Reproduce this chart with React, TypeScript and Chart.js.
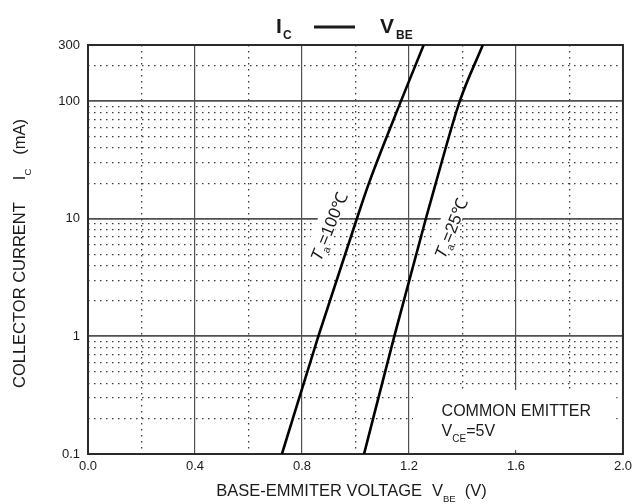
import React, { useEffect, useRef } from 'react';
import { Chart, registerables } from 'chart.js';

Chart.register(...registerables);

// ---- data ----
const VBE_TA100 = [0.725, 0.861, 1.005, 1.05, 1.17, 1.255];
const IC_TA100 = [0.1, 1, 10, 20, 100, 300];
const VBE_TA25 = [1.032, 1.145, 1.263, 1.3, 1.39, 1.476];
const IC_TA25 = [0.1, 1, 10, 20, 100, 300];

const X_MAJOR = [0, 0.4, 0.8, 1.2, 1.6, 2.0];
const X_MINOR = [0.2, 0.6, 1.0, 1.4, 1.8];
const Y_MAJOR = [0.1, 1, 10, 100, 300];
const Y_MINOR = [
  0.2, 0.3, 0.4, 0.5, 0.6, 0.7, 0.8, 0.9,
  2, 3, 4, 5, 6, 7, 8, 9,
  20, 30, 40, 50, 60, 70, 80, 90,
  200,
];

const FONT = '"Liberation Sans", Arial, Helvetica, sans-serif';
const INK = '#1a1a1a';

function seq(ctx: CanvasRenderingContext2D, parts: { t: string; font: string; dy: number; gap?: number }[], x: number, y: number) {
  let cx = x;
  for (const p of parts) {
    ctx.font = p.font;
    ctx.fillText(p.t, cx, y + p.dy);
    cx += ctx.measureText(p.t).width + (p.gap || 0);
  }
  return cx - x;
}

function seqWidth(ctx: CanvasRenderingContext2D, parts: { t: string; font: string; dy: number; gap?: number }[]) {
  let w = 0;
  for (const p of parts) {
    ctx.font = p.font;
    w += ctx.measureText(p.t).width + (p.gap || 0);
  }
  return w;
}

const decorPlugin = {
  id: 'decor',
  beforeDatasetsDraw(chart: any) {
    const { ctx, chartArea: a, scales } = chart;
    const sx = scales.x;
    const sy = scales.y;
    ctx.save();
    // white panel behind the "COMMON EMITTER" note
    const bx0 = sx.getPixelForValue(1.215);
    const bx1 = sx.getPixelForValue(1.975);
    const by0 = sy.getPixelForValue(0.35);
    const by1 = sy.getPixelForValue(0.108);
    ctx.fillStyle = '#ffffff';
    ctx.fillRect(bx0, by0, bx1 - bx0, by1 - by0);
    // frame
    ctx.strokeStyle = '#2a2a2a';
    ctx.lineWidth = 2;
    ctx.strokeRect(a.left, a.top, a.right - a.left, a.bottom - a.top);
    ctx.restore();
  },
  afterDatasetsDraw(chart: any) {
    const { ctx, scales } = chart;
    const sx = scales.x;
    const sy = scales.y;
    ctx.save();
    ctx.fillStyle = INK;
    ctx.textBaseline = 'alphabetic';
    ctx.textAlign = 'left';

    const labels = [
      { x: 0.9, y: 8.6, main: 'T', sub: 'a', rest: '=100℃' },
      { x: 1.357, y: 8.3, main: 'T', sub: 'a', rest: '=25℃' },
    ];
    for (const l of labels) {
      const px = sx.getPixelForValue(l.x);
      const py = sy.getPixelForValue(l.y);
      const parts = [
        { t: l.main, font: `italic 17px ${FONT}`, dy: 0, gap: 0.5 },
        { t: l.sub, font: `10.5px ${FONT}`, dy: 4, gap: 0.5 },
        { t: l.rest, font: `17px ${FONT}`, dy: 0 },
      ];
      ctx.save();
      ctx.translate(px, py);
      ctx.rotate((-68 * Math.PI) / 180);
      const w = seqWidth(ctx, parts);
      ctx.fillStyle = '#ffffff';
      ctx.fillRect(-w / 2 - 2, -13, w + 4, 20);
      ctx.fillStyle = INK;
      seq(ctx, parts, -w / 2, 6);
      ctx.restore();
    }

    // COMMON EMITTER note
    const nx = sx.getPixelForValue(1.322);
    const ny = sy.getPixelForValue(0.27);
    ctx.font = `16px ${FONT}`;
    ctx.fillText('COMMON EMITTER', nx, ny + 13);
    seq(ctx, [
      { t: 'V', font: `16px ${FONT}`, dy: 0 },
      { t: 'CE', font: `10px ${FONT}`, dy: 6 },
      { t: '=5V', font: `16px ${FONT}`, dy: 0 },
    ], nx, ny + 33);
    ctx.restore();
  },
  afterDraw(chart: any) {
    const { ctx, chartArea: a } = chart;
    ctx.save();
    ctx.fillStyle = INK;
    ctx.textAlign = 'left';
    ctx.textBaseline = 'alphabetic';

    // title  I_C  —  V_BE
    const tx = a.left + 188;
    ctx.font = `bold 21px ${FONT}`;
    ctx.fillText('I', tx, 33);
    ctx.font = `bold 12px ${FONT}`;
    ctx.fillText('C', tx + 7, 39);
    ctx.strokeStyle = INK;
    ctx.lineWidth = 3;
    ctx.beginPath();
    ctx.moveTo(tx + 38, 27);
    ctx.lineTo(tx + 79, 27);
    ctx.stroke();
    ctx.font = `bold 21px ${FONT}`;
    ctx.fillText('V', tx + 104, 33);
    ctx.font = `bold 12px ${FONT}`;
    ctx.fillText('BE', tx + 120, 39);

    // x axis title
    const xt = [
      { t: 'BASE-EMMITER VOLTAGE', font: `16.5px ${FONT}`, dy: 0, gap: 10 },
      { t: 'V', font: `16.5px ${FONT}`, dy: 0 },
      { t: 'BE', font: `9.5px ${FONT}`, dy: 6, gap: 9 },
      { t: '(V)', font: `16.5px ${FONT}`, dy: 0 },
    ];
    const xw = seqWidth(ctx, xt);
    seq(ctx, xt, (a.left + a.right) / 2 - 4 - xw / 2, 496);

    // y axis title (rotated)
    const yt = [
      { t: 'COLLECTOR CURRENT', font: `16.5px ${FONT}`, dy: 0, gap: 22 },
      { t: 'I', font: `16.5px ${FONT}`, dy: 0 },
      { t: 'C', font: `9.5px ${FONT}`, dy: 6, gap: 14 },
      { t: '(mA)', font: `16.5px ${FONT}`, dy: 0 },
    ];
    const yw = seqWidth(ctx, yt);
    ctx.translate(25, (a.top + a.bottom) / 2 + 4);
    ctx.rotate(-Math.PI / 2);
    seq(ctx, yt, -yw / 2, 0);
    ctx.restore();
  },
};

export default function App() {
  const ref = useRef<HTMLCanvasElement | null>(null);

  useEffect(() => {
    if (!ref.current) return;
    const mk = (xs: number[], ys: number[]) => xs.map((x, i) => ({ x, y: ys[i] }));
    const lineStyle = {
      showLine: true,
      borderColor: '#000000',
      borderWidth: 2.6,
      pointRadius: 0,
      cubicInterpolationMode: 'monotone',
      xAxisID: 'x',
      yAxisID: 'y',
    };
    const chart = new Chart(ref.current, {
      type: 'scatter',
      data: {
        datasets: [
          { label: 'Ta=100℃', data: mk(VBE_TA100, IC_TA100), ...lineStyle },
          { label: 'Ta=25℃', data: mk(VBE_TA25, IC_TA25), ...lineStyle },
        ],
      },
      options: {
        animation: false,
        responsive: true,
        maintainAspectRatio: false,
        devicePixelRatio: 1,
        layout: { padding: { top: 45, right: 10, left: 0, bottom: 0 } },
        plugins: {
          legend: { display: false },
          tooltip: { enabled: false },
          title: { display: false },
        },
        scales: {
          x: {
            type: 'linear',
            position: 'bottom',
            min: 0,
            max: 2,
            afterBuildTicks: (axis: any) => {
              axis.ticks = X_MAJOR.map((v) => ({ value: v }));
            },
            afterFit: (s: any) => {
              s.height = 50;
            },
            ticks: {
              autoSkip: false,
              maxRotation: 0,
              padding: 5,
              color: INK,
              font: { family: FONT, size: 13 },
              callback: (v: any) => Number(v).toFixed(1),
            },
            grid: { color: '#505050', lineWidth: 1.2, drawTicks: false },
            border: { display: false },
          },
          x2: {
            type: 'linear',
            position: 'top',
            min: 0,
            max: 2,
            afterBuildTicks: (axis: any) => {
              axis.ticks = X_MINOR.map((v) => ({ value: v }));
            },
            afterFit: (s: any) => {
              s.height = 0;
            },
            ticks: { display: false },
            grid: { color: '#3a3a3a', lineWidth: 1.3, drawTicks: false },
            border: { display: false, dash: [1.5, 4.5] },
          },
          y: {
            type: 'logarithmic',
            position: 'left',
            min: 0.1,
            max: 300,
            afterBuildTicks: (axis: any) => {
              axis.ticks = Y_MAJOR.map((v) => ({ value: v }));
            },
            afterFit: (s: any) => {
              s.width = 88;
            },
            ticks: {
              autoSkip: false,
              padding: 8,
              color: INK,
              font: { family: FONT, size: 13 },
              callback: (v: any) => String(Number(v)),
            },
            grid: { color: '#505050', lineWidth: 1.8, drawTicks: false },
            border: { display: false },
          },
          y2: {
            type: 'logarithmic',
            position: 'right',
            min: 0.1,
            max: 300,
            afterBuildTicks: (axis: any) => {
              axis.ticks = Y_MINOR.map((v) => ({ value: v }));
            },
            afterFit: (s: any) => {
              s.width = 0;
            },
            ticks: { display: false },
            grid: { color: '#3a3a3a', lineWidth: 1.3, drawTicks: false },
            border: { display: false, dash: [1.5, 4.5] },
          },
        },
      } as any,
      plugins: [decorPlugin],
    });
    return () => chart.destroy();
  }, []);

  return (
    <div style={{ position: 'absolute', left: 0, top: 0, width: 637, height: 504, background: '#ffffff' }}>
      <canvas ref={ref} />
    </div>
  );
}
